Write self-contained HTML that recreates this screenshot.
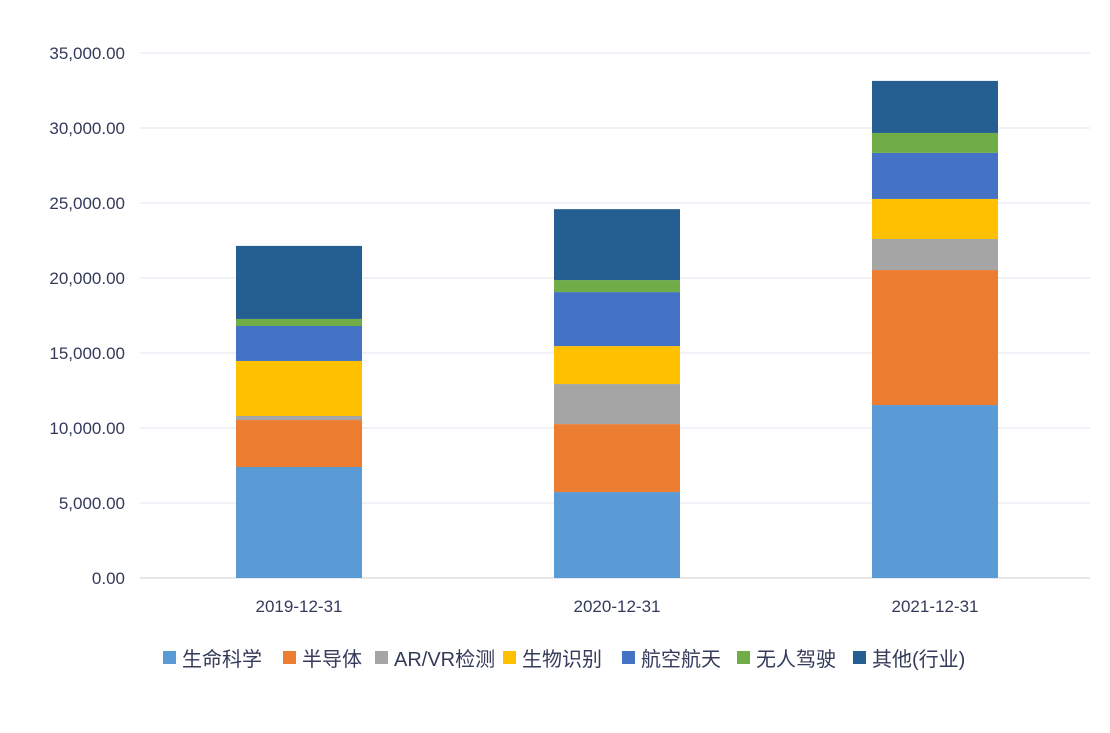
<!DOCTYPE html>
<html><head><meta charset="utf-8"><style>
body{margin:0;background:#fff;font-family:"Liberation Sans","Noto Sans CJK SC",sans-serif;}
</style></head><body>
<svg id="c" width="1110" height="728"></svg>
<script>
const categories=["2019-12-31","2020-12-31","2021-12-31"];
const seriesNames=["生命科学","半导体","AR/VR检测","生物识别","航空航天","无人驾驶","其他(行业)"];
const colors=["#5b9bd5","#ed7d31","#a5a5a5","#ffc000","#4472c4","#70ad47","#255e91"];
const s0=[7400,5730,11530];
const s1=[3130,4530,9000];
const s2=[270,2670,2070];
const s3=[3670,2530,2670];
const s4=[2330,3600,3070];
const s5=[470,800,1330];
const s6=[4870,4730,3470];
const series=[s0,s1,s2,s3,s4,s5,s6];
const ticks=[0,5000,10000,15000,20000,25000,30000,35000];
const tickLabels=["0.00","5,000.00","10,000.00","15,000.00","20,000.00","25,000.00","30,000.00","35,000.00"];
const NS="http://www.w3.org/2000/svg";
const svg=document.getElementById('c');
function y(v){return 578-v*525/35000;}
function xc(i){return 299+i*318;}
function mk(t,a){const e=document.createElementNS(NS,t);for(const k in a)e.setAttribute(k,a[k]);svg.appendChild(e);return e;}
ticks.forEach((t,i)=>{
 const l=mk('line',{x1:140,x2:1090,y1:y(t),y2:y(t),stroke:i==0?'#d0d0d0':'#e2e6ef','stroke-width':1});
 
 
 const tx=mk('text',{x:125,y:y(t)+6,'text-anchor':'end','font-size':17,fill:'#333a5a'});
 tx.textContent=tickLabels[i];
 
 
});
categories.forEach((c,i)=>{
 let acc=0;
 series.forEach((s,k)=>{
  const r=mk('rect',{x:xc(i)-63,width:126,y:y(acc+s[i]),height:y(acc)-y(acc+s[i]),fill:colors[k]});
  
  
  acc+=s[i];
 });
 const tx=mk('text',{x:xc(i),y:612,'text-anchor':'middle','font-size':17,fill:'#333a5a'});
 tx.textContent=c;
 
 
});
let lx=163;
const widths=[120,92,128,119,115,116,120];
seriesNames.forEach((n,k)=>{
 const r=mk('rect',{x:lx,y:651,width:13,height:13,fill:colors[k]});
 
 
 const t=mk('text',{x:lx+19,y:666,'font-size':20,fill:'#333a5a'});
 t.textContent=n;
 
 
 lx+=widths[k];
});
</script>
</body></html>
